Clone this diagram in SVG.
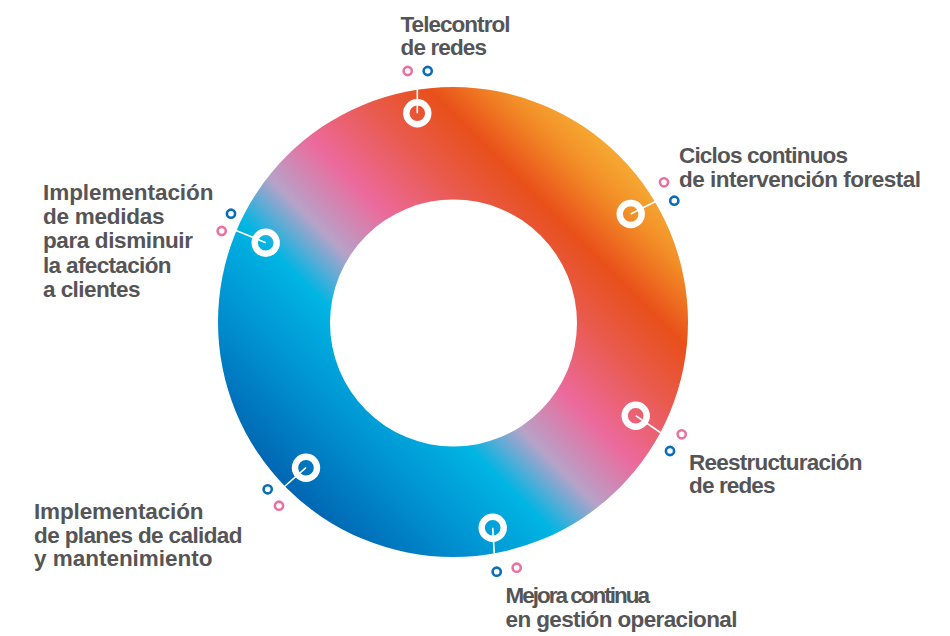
<svg xmlns="http://www.w3.org/2000/svg" width="950" height="636" viewBox="0 0 950 636">
  <defs>
    <linearGradient id="ringGrad" gradientUnits="userSpaceOnUse" x1="619" y1="156" x2="287" y2="488">
      <stop offset="0" stop-color="#F6A833"/>
      <stop offset="0.07" stop-color="#F39028"/>
      <stop offset="0.185" stop-color="#E8501A"/>
      <stop offset="0.3" stop-color="#E95A4E"/>
      <stop offset="0.44" stop-color="#EC6A9C"/>
      <stop offset="0.56" stop-color="#B6A2C8"/>
      <stop offset="0.665" stop-color="#00B5E3"/>
      <stop offset="0.82" stop-color="#0092D2"/>
      <stop offset="1" stop-color="#0066B2"/>
    </linearGradient>
  </defs>
  <style>
    .lbl { font-family: "Liberation Sans", Arial, sans-serif; font-weight: bold; font-size: 22.5px; fill: #555557; }
    .mk { fill: none; stroke: #FFFFFF; stroke-width: 6.4; }
    .conn { stroke: #FFFFFF; stroke-width: 1.6; fill: none; }
    .dp { fill: #FFFFFF; stroke: #E9729F; stroke-width: 2.6; }
    .db { fill: #FFFFFF; stroke: #0A6DB8; stroke-width: 2.6; }
  </style>

  <g id="ring">
    <path fill="url(#ringGrad)" fill-rule="evenodd"
      d="M 218 322 A 235 235 0 1 0 688 322 A 235 235 0 1 0 218 322 Z
         M 330 323 A 123.5 123.5 0 1 0 577 323 A 123.5 123.5 0 1 0 330 323 Z"/>
  </g>

  <g id="connectors">
    <line class="conn" x1="417.3" y1="113.3" x2="417.3" y2="88.5"/>
    <line class="conn" x1="630.7" y1="214" x2="656" y2="201.2"/>
    <line class="conn" x1="635.7" y1="415.7" x2="662.5" y2="434"/>
    <line class="conn" x1="492.7" y1="527.7" x2="494.3" y2="554"/>
    <line class="conn" x1="306" y1="467.7" x2="284.5" y2="486.5"/>
    <line class="conn" x1="265.7" y1="242.7" x2="236" y2="230.5"/>
  </g>

  <g id="node-telecontrol">
    <circle class="mk" cx="417.3" cy="113.3" r="11"/>
    <circle class="dp" cx="407.7" cy="71" r="4.1"/>
    <circle class="db" cx="427.7" cy="71" r="4.1"/>
    <text class="lbl" x="400.5" y="31.5" textLength="110" lengthAdjust="spacing">Telecontrol</text>
    <text class="lbl" x="400.5" y="55" textLength="86.5" lengthAdjust="spacing">de redes</text>
  </g>

  <g id="node-ciclos">
    <circle class="mk" cx="630.7" cy="214" r="11"/>
    <circle class="dp" cx="664" cy="182.3" r="4.1"/>
    <circle class="db" cx="674.3" cy="200.7" r="4.1"/>
    <text class="lbl" x="679" y="163.2" textLength="169" lengthAdjust="spacing">Ciclos continuos</text>
    <text class="lbl" x="679" y="186.8" textLength="242" lengthAdjust="spacing">de intervención forestal</text>
  </g>

  <g id="node-reestructuracion">
    <circle class="mk" cx="635.7" cy="415.7" r="11"/>
    <circle class="dp" cx="681.7" cy="434.3" r="4.1"/>
    <circle class="db" cx="670" cy="451" r="4.1"/>
    <text class="lbl" x="689" y="469.6" textLength="173.5" lengthAdjust="spacing">Reestructuración</text>
    <text class="lbl" x="689" y="493.2" textLength="86.5" lengthAdjust="spacing">de redes</text>
  </g>

  <g id="node-mejora">
    <circle class="mk" cx="492.7" cy="527.7" r="11"/>
    <circle class="db" cx="496.7" cy="571.7" r="4.1"/>
    <circle class="dp" cx="516.7" cy="567.7" r="4.1"/>
    <text class="lbl" x="505.5" y="603.2" textLength="144.5" lengthAdjust="spacing">Mejora continua</text>
    <text class="lbl" x="505.5" y="626.8" textLength="232" lengthAdjust="spacing">en gestión operacional</text>
  </g>

  <g id="node-planes">
    <circle class="mk" cx="306" cy="467.7" r="11"/>
    <circle class="db" cx="267.7" cy="489.3" r="4.1"/>
    <circle class="dp" cx="279" cy="505.7" r="4.1"/>
    <text class="lbl" x="34" y="519.3" textLength="169.5" lengthAdjust="spacing">Implementación</text>
    <text class="lbl" x="34" y="542.8" textLength="208.5" lengthAdjust="spacing">de planes de calidad</text>
    <text class="lbl" x="34" y="566.3" textLength="178.5" lengthAdjust="spacing">y mantenimiento</text>
  </g>

  <g id="node-medidas">
    <circle class="mk" cx="265.7" cy="242.7" r="11"/>
    <circle class="db" cx="231" cy="213.7" r="4.1"/>
    <circle class="dp" cx="221.7" cy="231" r="4.1"/>
    <text class="lbl" x="43" y="200" textLength="170.5" lengthAdjust="spacing">Implementación</text>
    <text class="lbl" x="43" y="224.2" textLength="121.5" lengthAdjust="spacing">de medidas</text>
    <text class="lbl" x="43" y="248.4" textLength="150" lengthAdjust="spacing">para disminuir</text>
    <text class="lbl" x="43" y="272.6" textLength="128.5" lengthAdjust="spacing">la afectación</text>
    <text class="lbl" x="43" y="296.6" textLength="97.5" lengthAdjust="spacing">a clientes</text>
  </g>
</svg>
